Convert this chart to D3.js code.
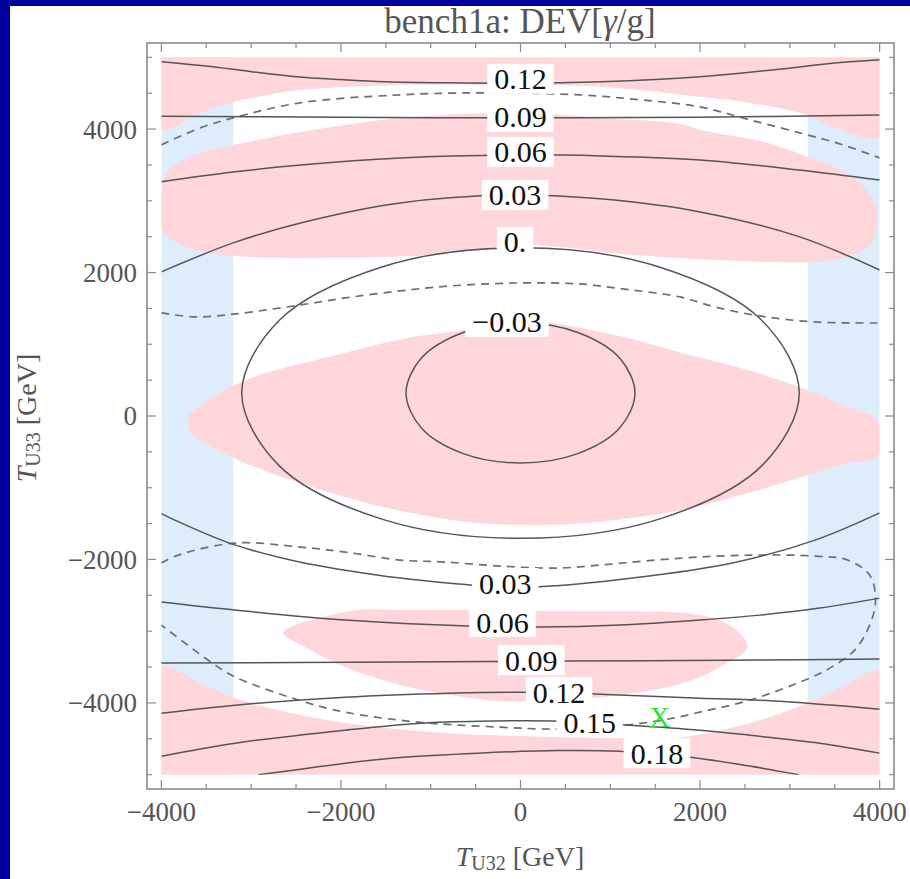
<!DOCTYPE html>
<html>
<head>
<meta charset="utf-8">
<script src="https://cdn.jsdelivr.net/npm/d3@7"></script>
<style>
body { margin: 0; background: #00009c; }
text { font-family: "Liberation Serif", "Times New Roman", serif; }
</style>
</head>
<body>
<div id="chart"></div>
<script>
// ---- data (T_U32, T_U33 in GeV) ----
var xMajor = [-4000, -2000, 0, 2000, 4000];
var yMajor = [-4000, -2000, 0, 2000, 4000];

var blueBands = [[-4000, -3200], [3200, 4000]];

var pinkTop = [[-4000,5000],[4000,5000],[4000,3890],[3480,4030],[3190,4200],[2550,4365],[2000,4450],[885,4590],[0,4615],[-1340,4615],[-2450,4545],[-2820,4475],[-3190,4380],[-3570,4225],[-4000,3990]];
var pinkUpper = [[-4000,3110],[-3930,3430],[-3755,3570],[-3565,3670],[-3190,3780],[-2450,3960],[-1340,4155],[-230,4225],[330,4210],[885,4155],[1775,4075],[2000,3990],[2745,3810],[3190,3615],[3700,3335],[3965,2915],[3975,2665],[3890,2385],[3645,2220],[3275,2150],[2165,2175],[1050,2270],[440,2360],[0,2380],[-475,2320],[-1005,2245],[-1955,2205],[-3065,2220],[-3620,2315],[-3930,2495],[-4000,2635]];
var pinkCenter = [[-3700,-14],[-3565,150],[-3065,500],[-1955,880],[-1205,1100],[-620,1200],[0,1310],[305,1300],[1050,1130],[1800,880],[2530,640],[3130,390],[3645,125],[3975,-55],[3975,-570],[3645,-655],[3130,-850],[2530,-1075],[1800,-1310],[1050,-1450],[305,-1520],[-475,-1490],[-1205,-1355],[-1955,-1130],[-3065,-655],[-3620,-295],[-3680,-225]];
var pinkLower = [[-2645,-3025],[-2510,-2915],[-2320,-2845],[-1810,-2705],[-1340,-2705],[515,-2720],[2000,-2775],[2365,-2945],[2530,-3220],[2300,-3445],[2000,-3640],[1630,-3780],[885,-3920],[415,-3960],[-230,-3975],[-840,-3880],[-1340,-3750],[-1955,-3500],[-2400,-3220]];
var pinkBottom = [[-4000,-3500],[-3565,-3725],[-3175,-3935],[-2700,-4100],[-1955,-4280],[-840,-4420],[415,-4475],[1105,-4490],[1810,-4475],[2555,-4280],[3190,-4005],[3665,-3725],[4000,-3545],[4000,-5000],[-4000,-5000]];

// solid contours of DEV[gamma/g]
var c012Top = [[-4000,4940],[-3500,4880],[-3000,4800],[-2500,4730],[-2000,4690],[-1500,4660],[-800,4645],[0,4640],[900,4660],[1500,4690],[2000,4730],[2500,4785],[3000,4850],[3500,4920],[4000,4965]];
var c009Top = [[-4000,4180],[-2000,4165],[0,4157],[2000,4165],[4000,4195]];
var c006Top = [[-4000,3265],[-3200,3400],[-2450,3500],[-1340,3598],[0,3640],[900,3625],[2000,3570],[3100,3430],[4000,3290]];
var c003Top = [[-4000,2010],[-3200,2413],[-2450,2692],[-1340,2971],[0,3082],[885,3027],[2000,2845],[3110,2497],[4000,2036]];
var c000 = [[3105,320],[2689,1332],[1553,2074],[0,2345],[-1553,2074],[-2689,1332],[-3105,320],[-2689,-692],[-1553,-1434],[0,-1705],[1553,-1434],[2689,-692]];
var cm003 = [[1275,320],[1104,807],[637,1164],[0,1295],[-637,1164],[-1104,807],[-1275,320],[-1104,-167],[-637,-524],[0,-655],[637,-524],[1104,-167]];
var c003Bot = [[-4000,-1360],[-3800,-1480],[-3200,-1790],[-2450,-2040],[-1950,-2150],[-1340,-2260],[-560,-2355],[200,-2380],[1250,-2260],[2360,-2050],[3280,-1730],[4000,-1350]];
var c006Bot = [[-4000,-2594],[-3177,-2706],[-1953,-2845],[-584,-2929],[217,-2943],[1107,-2915],[1997,-2845],[2665,-2776],[3332,-2678],[4000,-2539]];
var c009Bot = [[-4000,-3445],[-1340,-3431],[440,-3417],[2665,-3403],[4000,-3389]];
var c012Bot = [[-4000,-4143],[-3177,-4031],[-1953,-3920],[-784,-3864],[17,-3850],[885,-3878],[1997,-3934],[2665,-3962],[3332,-4017],[4000,-4087]];
var c015Bot = [[-4000,-4742],[-3177,-4561],[-1953,-4380],[-1118,-4282],[-451,-4254],[439,-4254],[1218,-4310],[1997,-4380],[2553,-4450],[3332,-4561],[4000,-4700]];
var c018Bot = [[-2920,-5000],[-2450,-4925],[-1950,-4840],[-1340,-4760],[-470,-4700],[420,-4665],[1100,-4675],[1890,-4756],[2550,-4880],[3100,-5000]];

// dashed contours
var dashTop = [[-4000,3780],[-3566,4017],[-3199,4157],[-2453,4366],[-1341,4477],[-451,4505],[662,4477],[1330,4408],[1997,4310],[2553,4129],[3110,3947],[3555,3794],[4000,3598]];
var dashMid = [[-4000,1437],[-3622,1381],[-3177,1423],[-2453,1548],[-1953,1646],[-1341,1744],[-784,1813],[0,1855],[662,1841],[1051,1785],[1775,1660],[2164,1520],[2665,1395],[3277,1311],[4000,1297]];
var dashLoop = [[-4000,-2050],[-3811,-1939],[-3177,-1771],[-2453,-1827],[-1953,-1897],[-1341,-2008],[-840,-2036],[-228,-2092],[417,-2120],[885,-2078],[1797,-1981],[2587,-1939],[3277,-1953],[3644,-2008],[3889,-2218],[3955,-2566],[3889,-2915],[3722,-3264],[3444,-3515],[3221,-3654],[2553,-3962],[1997,-4129],[1697,-4213],[1185,-4310],[885,-4338],[417,-4366],[-228,-4338],[-1140,-4268],[-1953,-4129],[-2398,-3989],[-3177,-3640],[-3432,-3445],[-4000,-2915]];

var labelText = ["0.12", "0.09", "0.06", "0.03", "0.", "\u22120.03", "0.03", "0.06", "0.09", "0.12", "0.15", "0.18"];
var labelX = [0, 0, 0, -60, -60, -150, -170, -200, 120, 430, 770, 1520];
var labelY = [4700, 4170, 3682, 3082, 2427, 1311, -2329, -2873, -3403, -3850, -4268, -4700];

var benchPoint = [1550, -4190];

// ---- drawing ----
var width = 910, height = 879;
var x = d3.scaleLinear().domain([-4160, 4160]).range([147, 894]);
var y = d3.scaleLinear().domain([-5200, 5200]).range([789, 43]);

var svg = d3.select("#chart").append("svg")
	.attr("width", width)
	.attr("height", height);

svg.append("rect").attr("width", width).attr("height", height).attr("fill", "#00009c");
svg.append("rect").attr("x", 10).attr("y", 6).attr("width", width - 10).attr("height", height - 6).attr("fill", "white");

svg.append("defs").append("clipPath").attr("id", "clip")
	.append("rect")
	.attr("x", x(-4000)).attr("y", y(5000))
	.attr("width", x(4000) - x(-4000)).attr("height", y(-5000) - y(5000));

var plot = svg.append("g").attr("clip-path", "url(#clip)");

plot.selectAll("rect.band")
	.data(blueBands)
	.enter().append("rect")
	.attr("class", "band")
	.attr("x", function(d) { return x(d[0]); })
	.attr("width", function(d) { return x(d[1]) - x(d[0]); })
	.attr("y", y(5000))
	.attr("height", y(-5000) - y(5000))
	.attr("fill", "#ddedfc");

var region = d3.line()
	.x(function(d) { return x(d[0]); })
	.y(function(d) { return y(d[1]); })
	.curve(d3.curveCatmullRomClosed.alpha(0.5));

plot.selectAll("path.pink")
	.data([pinkTop, pinkUpper, pinkCenter, pinkLower, pinkBottom])
	.enter().append("path")
	.attr("class", "pink")
	.attr("d", region)
	.attr("fill", "#ffd7da");

var openLine = d3.line()
	.x(function(d) { return x(d[0]); })
	.y(function(d) { return y(d[1]); })
	.curve(d3.curveCatmullRom.alpha(0.5));

plot.selectAll("path.dash")
	.data([dashTop, dashMid, dashLoop])
	.enter().append("path")
	.attr("class", "dash")
	.attr("d", openLine)
	.attr("fill", "none")
	.attr("stroke", "#6e6e6e")
	.attr("stroke-width", 1.7)
	.attr("stroke-dasharray", "8,6");

plot.selectAll("path.solid")
	.data([c012Top, c009Top, c006Top, c003Top, c003Bot, c006Bot, c009Bot, c012Bot, c015Bot, c018Bot])
	.enter().append("path")
	.attr("class", "solid")
	.attr("d", openLine)
	.attr("fill", "none")
	.attr("stroke", "#555")
	.attr("stroke-width", 1.5);

plot.selectAll("path.ring")
	.data([c000, cm003])
	.enter().append("path")
	.attr("class", "ring")
	.attr("d", region)
	.attr("fill", "none")
	.attr("stroke", "#555")
	.attr("stroke-width", 1.5);

// contour labels in white boxes
var labels = svg.append("g").selectAll("g")
	.data(labelText)
	.enter().append("g")
	.attr("transform", function(d, i) { return "translate(" + x(labelX[i]) + "," + y(labelY[i]) + ")"; });

var labelBox = labels.append("rect").attr("fill", "white");
var labelTxt = labels.append("text")
	.attr("text-anchor", "middle")
	.attr("dy", "0.35em")
	.style("font-size", "30px")
	.attr("fill", "#111")
	.text(function(d) { return d; });

labelTxt.each(function(d, i) {
	var w = this.getComputedTextLength();
	d3.select(labelBox.nodes()[i])
		.attr("x", -w / 2 - 7).attr("y", -15)
		.attr("width", w + 14).attr("height", 30);
});

svg.append("text")
	.attr("x", x(benchPoint[0]))
	.attr("y", y(benchPoint[1]))
	.attr("dy", "0.35em")
	.attr("text-anchor", "middle")
	.style("font-size", "29px")
	.attr("fill", "#2fe02f")
	.text("X");

// frame and ticks
svg.append("rect")
	.attr("x", 147).attr("y", 43)
	.attr("width", 894 - 147).attr("height", 789 - 43)
	.attr("fill", "none")
	.attr("stroke", "#8a8a8a")
	.attr("stroke-width", 1.6);

var ticks = svg.append("g").attr("stroke", "#8a8a8a").attr("stroke-width", 1.2);
var xMinor = d3.range(-4000, 4001, 500);
var yMinor = d3.range(-5000, 5001, 500);

xMinor.forEach(function(v) {
	var len = (v % 2000 === 0) ? 9 : 5;
	ticks.append("line").attr("x1", x(v)).attr("x2", x(v)).attr("y1", 789).attr("y2", 789 - len);
	ticks.append("line").attr("x1", x(v)).attr("x2", x(v)).attr("y1", 43).attr("y2", 43 + len);
});
yMinor.forEach(function(v) {
	var len = (v % 2000 === 0) ? 9 : 5;
	ticks.append("line").attr("y1", y(v)).attr("y2", y(v)).attr("x1", 147).attr("x2", 147 + len);
	ticks.append("line").attr("y1", y(v)).attr("y2", y(v)).attr("x1", 894).attr("x2", 894 - len);
});

function fmt(v) { return v < 0 ? "\u2212" + (-v) : "" + v; }

svg.append("g").selectAll("text")
	.data(xMajor)
	.enter().append("text")
	.attr("x", function(d) { return x(d); })
	.attr("y", 821)
	.attr("text-anchor", "middle")
	.style("font-size", "27px")
	.attr("fill", "#555")
	.text(fmt);

svg.append("g").selectAll("text")
	.data(yMajor)
	.enter().append("text")
	.attr("x", 137)
	.attr("y", function(d) { return y(d); })
	.attr("dy", "0.35em")
	.attr("text-anchor", "end")
	.style("font-size", "27px")
	.attr("fill", "#555")
	.text(fmt);

// title
var title = svg.append("text")
	.attr("x", 520).attr("y", 33)
	.attr("text-anchor", "middle")
	.style("font-size", "35px")
	.attr("fill", "#555");
title.append("tspan").text("bench1a: DEV[");
title.append("tspan").style("font-style", "italic").text("\u03b3");
title.append("tspan").text("/g]");

// axis labels
var xl = svg.append("text")
	.attr("x", 520).attr("y", 866)
	.attr("text-anchor", "middle")
	.style("font-size", "28px")
	.attr("fill", "#555");
xl.append("tspan").style("font-style", "italic").text("T");
xl.append("tspan").style("font-size", "20px").attr("dy", 4).text("U32");
xl.append("tspan").attr("dy", -4).text(" [GeV]");

var yl = svg.append("text")
	.attr("transform", "translate(36,418) rotate(-90)")
	.attr("text-anchor", "middle")
	.style("font-size", "28px")
	.attr("fill", "#555");
yl.append("tspan").style("font-style", "italic").text("T");
yl.append("tspan").style("font-size", "20px").attr("dy", 4).text("U33");
yl.append("tspan").attr("dy", -4).text(" [GeV]");
</script>
</body>
</html>
